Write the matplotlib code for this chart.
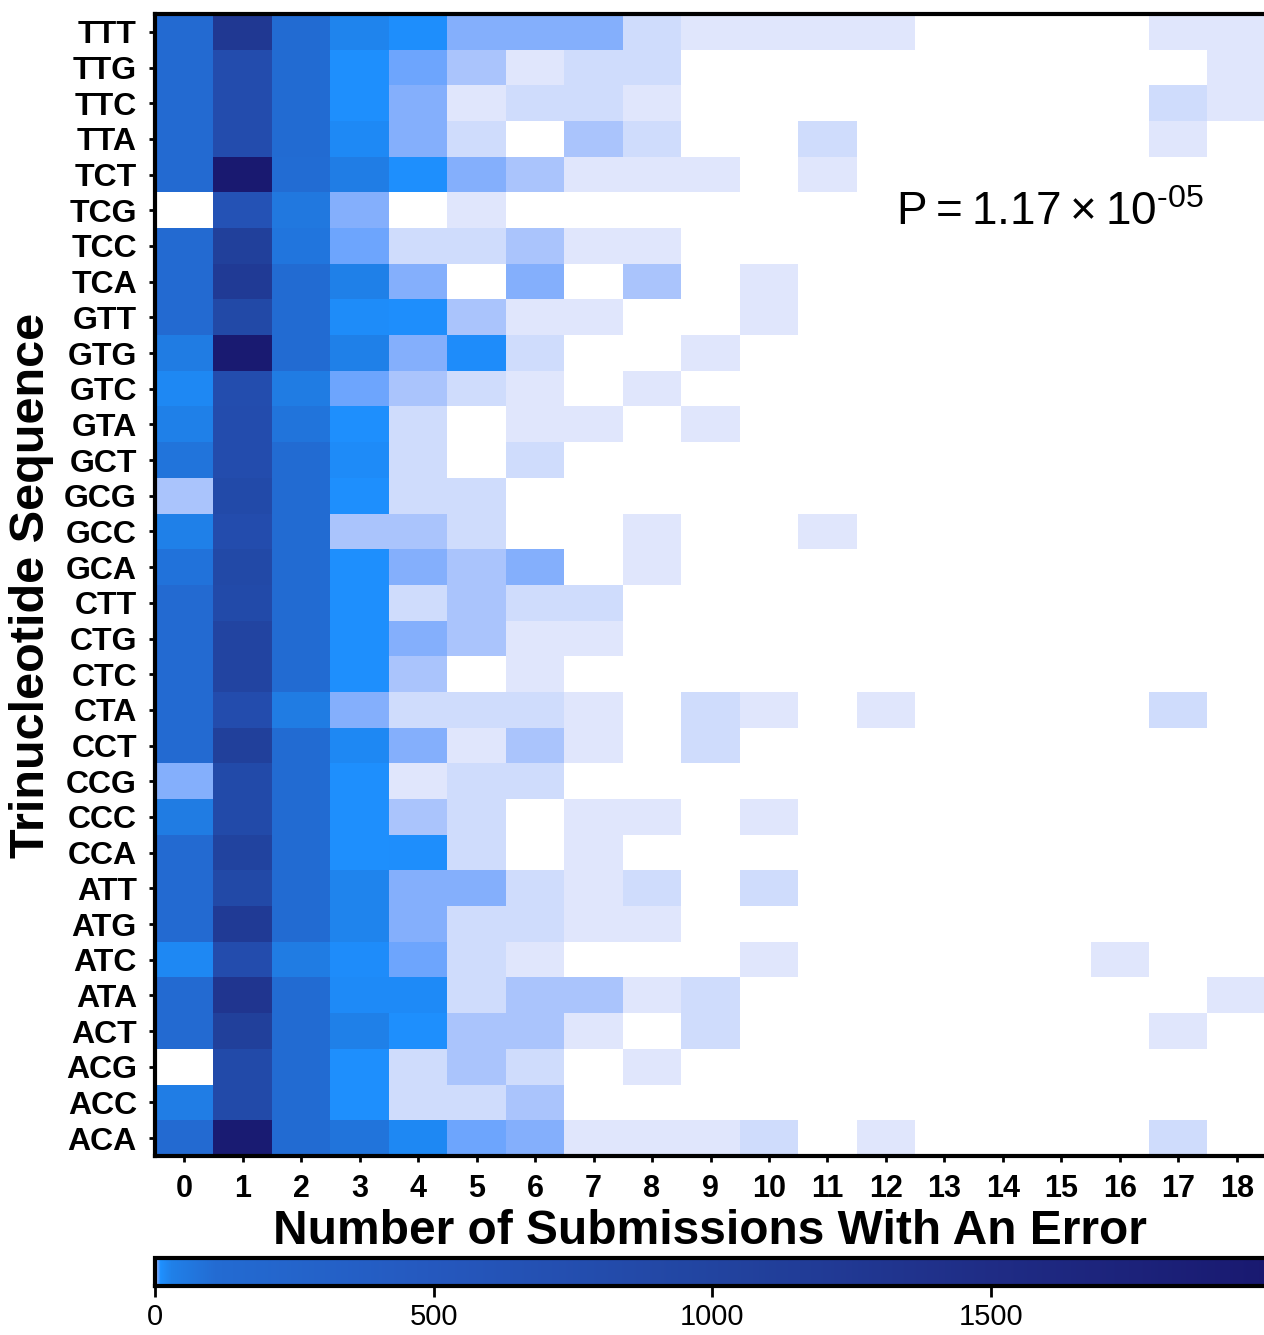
import numpy as np
import matplotlib
matplotlib.use("Agg")
import matplotlib.pyplot as plt
from matplotlib.colors import LinearSegmentedColormap, Normalize

plt.rcParams['font.family'] = ['Liberation Sans', 'DejaVu Sans']

_ = np.nan  # no submissions in that cell

trinucs = ["TTT", "TTG", "TTC", "TTA", "TCT", "TCG", "TCC", "TCA",
           "GTT", "GTG", "GTC", "GTA", "GCT", "GCG", "GCC", "GCA",
           "CTT", "CTG", "CTC", "CTA", "CCT", "CCG", "CCC", "CCA",
           "ATT", "ATG", "ATC", "ATA", "ACT", "ACG", "ACC", "ACA"]
n_errors = list(range(19))

# counts per trinucleotide (rows) and number of submissions with an error (cols)
counts = [
    [120, 1250, 110, 25, 12, 4, 4, 4, 2, 1, 1, 1, 1, _, _, _, _, 1, 1],   # TTT
    [115, 780, 110, 11, 5, 3, 1, 2, 2, _, _, _, _, _, _, _, _, _, 1],     # TTG
    [115, 780, 110, 11, 4, 1, 2, 2, 1, _, _, _, _, _, _, _, _, 2, 1],     # TTC
    [115, 780, 110, 18, 4, 2, _, 3, 2, _, _, 2, _, _, _, _, _, 1, _],     # TTA
    [120, 1990, 105, 40, 11, 4, 3, 1, 1, 1, _, 1, _, _, _, _, _, _, _],   # TCT
    [_, 650, 60, 4, _, 1, _, _, _, _, _, _, _, _, _, _, _, _, _],         # TCG
    [115, 1080, 70, 5, 2, 2, 3, 1, 1, _, _, _, _, _, _, _, _, _, _],      # TCC
    [115, 1200, 110, 30, 4, _, 4, _, 3, _, 1, _, _, _, _, _, _, _, _],    # TCA
    [120, 870, 110, 15, 12, 3, 1, 1, _, _, 1, _, _, _, _, _, _, _, _],    # GTT
    [45, 1960, 110, 30, 4, 14, 2, _, _, 1, _, _, _, _, _, _, _, _, _],    # GTG
    [20, 750, 45, 5, 3, 2, 1, _, 1, _, _, _, _, _, _, _, _, _, _],        # GTC
    [30, 780, 75, 11, 2, _, 1, 1, _, 1, _, _, _, _, _, _, _, _, _],       # GTA
    [75, 780, 110, 16, 2, _, 2, _, _, _, _, _, _, _, _, _, _, _, _],      # GCT
    [3, 850, 110, 11, 2, 2, _, _, _, _, _, _, _, _, _, _, _, _, _],       # GCG
    [30, 780, 110, 3, 3, 2, _, _, 1, _, _, 1, _, _, _, _, _, _, _],       # GCC
    [80, 870, 110, 11, 4, 3, 4, _, 1, _, _, _, _, _, _, _, _, _, _],      # GCA
    [120, 850, 110, 11, 2, 3, 2, 2, _, _, _, _, _, _, _, _, _, _, _],     # CTT
    [120, 980, 110, 11, 4, 3, 1, 1, _, _, _, _, _, _, _, _, _, _, _],     # CTG
    [120, 980, 110, 11, 3, _, 1, _, _, _, _, _, _, _, _, _, _, _, _],     # CTC
    [120, 780, 45, 4, 2, 2, 2, 1, _, 2, 1, _, 1, _, _, _, _, 2, _],       # CTA
    [120, 1080, 110, 20, 4, 1, 3, 1, _, 2, _, _, _, _, _, _, _, _, _],    # CCT
    [4, 850, 110, 11, 1, 2, 2, _, _, _, _, _, _, _, _, _, _, _, _],       # CCG
    [45, 850, 110, 11, 3, 2, _, 1, 1, _, 1, _, _, _, _, _, _, _, _],      # CCC
    [120, 1000, 110, 11, 12, 2, _, 1, _, _, _, _, _, _, _, _, _, _, _],   # CCA
    [120, 870, 110, 25, 4, 4, 2, 1, 2, _, 2, _, _, _, _, _, _, _, _],     # ATT
    [120, 1200, 110, 25, 4, 2, 2, 1, 1, _, _, _, _, _, _, _, _, _, _],    # ATG
    [20, 780, 45, 14, 5, 2, 1, _, _, _, 1, _, _, _, _, _, 1, _, _],       # ATC
    [120, 1300, 110, 17, 17, 2, 3, 3, 1, 2, _, _, _, _, _, _, _, _, 1],   # ATA
    [120, 1080, 110, 30, 11, 3, 3, 1, _, 2, _, _, _, _, _, _, _, 1, _],   # ACT
    [_, 850, 110, 11, 2, 3, 2, _, 1, _, _, _, _, _, _, _, _, _, _],       # ACG
    [40, 850, 110, 11, 2, 2, 3, _, _, _, _, _, _, _, _, _, _, _, _],      # ACC
    [120, 1930, 110, 75, 20, 5, 4, 1, 1, 1, 2, _, 1, _, _, _, _, 2, _],   # ACA
]

vmax = 1993
# gradient anchors (value, colour)
anchor_vals = [0, 1, 2, 3, 4, 5, 10, 30, 110, 500, 1000, 1500, vmax]
anchor_cols = ["#E8ECFC", "#E0E6FC", "#CFDCFC", "#AAC4FC", "#84AFFC", "#6DA5FE",
               "#1E90FF", "#2080E8", "#236BD2", "#2558BE", "#2244A0", "#1F2C85", "#191970"]

cmap = LinearSegmentedColormap.from_list(
    "errs", [(v / vmax, c) for v, c in zip(anchor_vals, anchor_cols)], N=20000)
cmap.set_bad("white")
norm = Normalize(vmin=0, vmax=vmax)

W, H = 1264, 1335
fig = plt.figure(figsize=(W / 100, H / 100), dpi=100)

ax = fig.add_axes([155 / W, 1 - 1156 / H, 1111 / W, 1142 / H])
data = np.array(counts, dtype=float)
im = ax.imshow(data, cmap=cmap, norm=norm, aspect="auto", interpolation="nearest")

ax.set_xticks(range(len(n_errors)))
ax.set_xticklabels([str(n) for n in n_errors], fontsize=22, fontweight="bold")
ax.set_yticks(range(len(trinucs)))
ax.set_yticklabels(trinucs, fontsize=23, fontweight="bold")
ax.tick_params(axis="both", length=4, width=2, direction="out")
ax.tick_params(axis="x", pad=9)
ax.tick_params(axis="y", pad=9)
for s in ["left", "top", "bottom"]:
    ax.spines[s].set_linewidth(3)
ax.spines["right"].set_visible(False)

ax.text(0.667, 0.815, "$\\mathregular{P = 1.17 \\times 10^{\u201005}}$",
        transform=ax.transAxes, fontsize=33, va="baseline", ha="left")

fig.text(710 / W, 1 - 1232 / H, "Number of Submissions With An Error",
         fontsize=34.5, fontweight="bold", ha="center", va="center")
fig.text(32 / W, 1 - 585 / H, "Trinucleotide Sequence", rotation=90,
         fontsize=35, fontweight="bold", ha="center", va="center")

cax = fig.add_axes([155 / W, 1 - 1286 / H, 1111 / W, 28 / H])
cb = fig.colorbar(im, cax=cax, orientation="horizontal")
cb.set_ticks([0, 500, 1000, 1500])
cb.outline.set_linewidth(3)
cax.tick_params(length=8, width=2, labelsize=21, pad=4)

fig.savefig("out.png", dpi=100)
